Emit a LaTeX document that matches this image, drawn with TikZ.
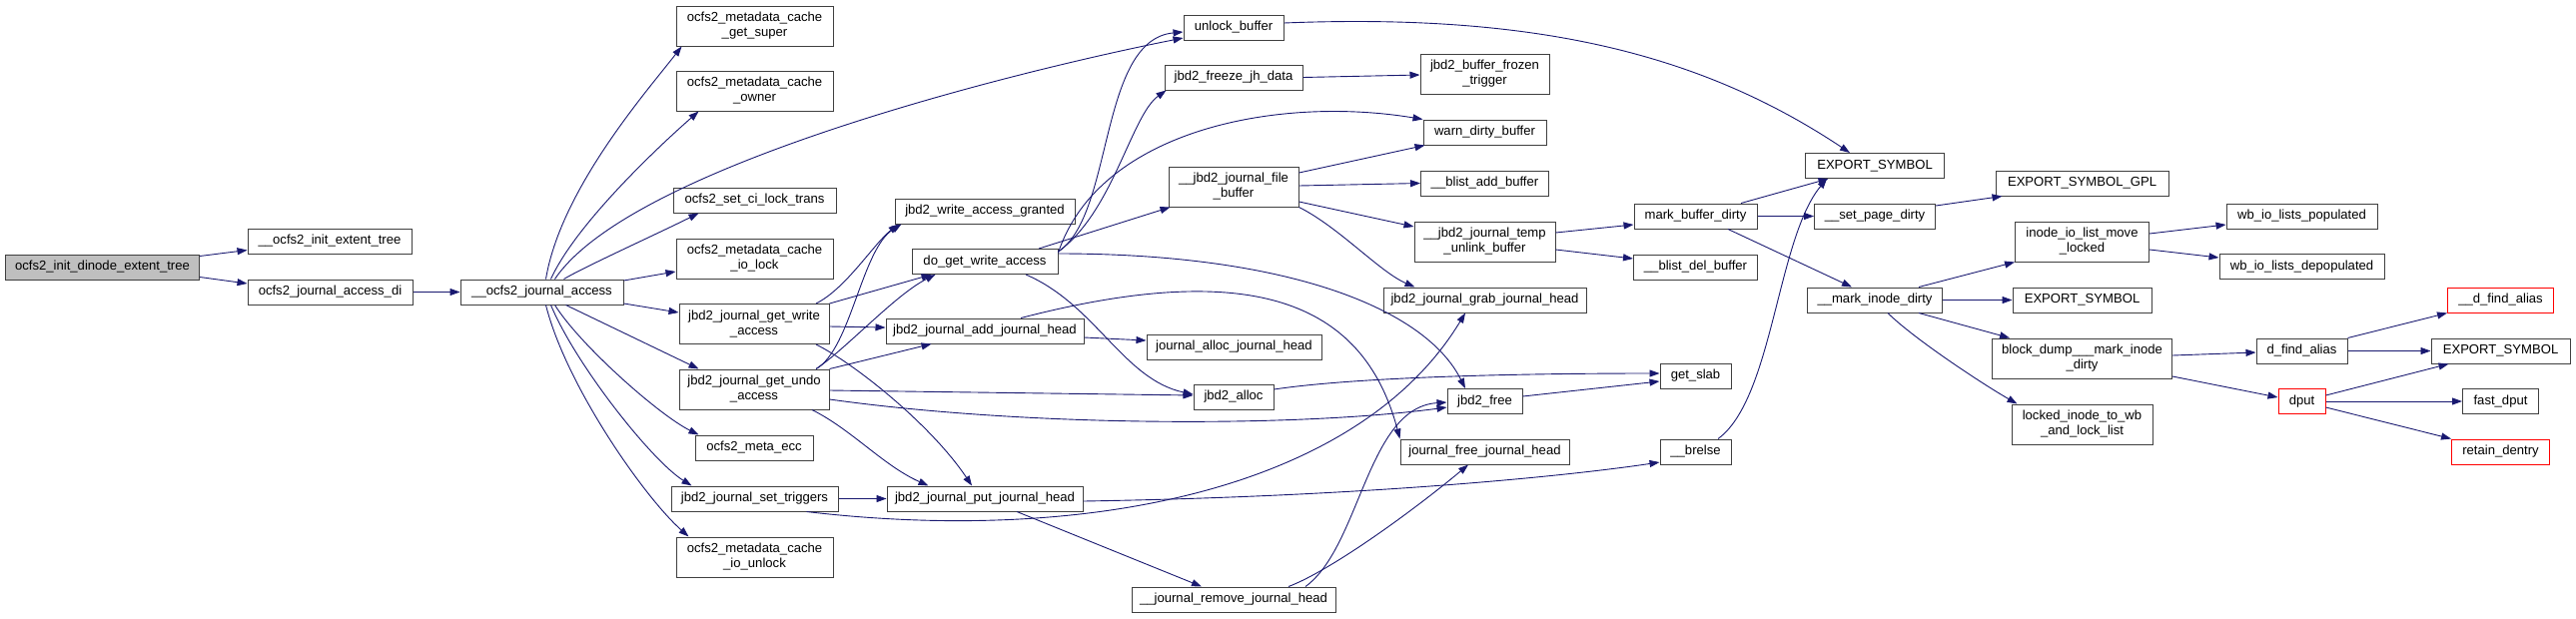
\documentclass[tikz,border=0pt]{standalone}
\usepackage{fontspec}
\setmainfont{Liberation Sans}
\usepackage{tikz}
\usetikzlibrary{arrows.meta}
\usepackage{xcolor}
\definecolor{edgecolor}{RGB}{25,25,112}
\definecolor{rootcolor}{RGB}{191,191,191}
\definecolor{boxborder}{RGB}{64,64,64}

\begin{document}
\begin{tikzpicture}[x=1pt, y=-1pt]
  \tikzset{
    func/.style={
      draw=boxborder,
      line width=1pt,
      fill=white,
      minimum height=25pt,
      inner sep=0pt,
      anchor=center,
      align=center,
      font=\fontsize{13.1}{15}\selectfont
    },
    func2/.style={
      func,
      minimum height=40pt
    },
    current/.style={
      func,
      fill=rootcolor
    },
    trunc/.style={
      func,
      draw=red
    },
    call/.style={
      draw=edgecolor,
      line width=0.9pt,
      -{Triangle[length=10pt,width=7pt]}
    }
  }
  \useasboundingbox (0,0) rectangle (2579,619);

  % Caller and first calls
    \node[current, minimum width=194pt] at (102.5, 267.5) (root) {ocfs2\_init\_dinode\_extent\_tree};
    \node[func, minimum width=164pt] at (330, 241.5) (initext) {\_\_ocfs2\_init\_extent\_tree};
    \node[func, minimum width=165pt] at (330.5, 292.5) (accdi) {ocfs2\_journal\_access\_di};
    \node[func, minimum width=163pt] at (542.5, 292.5) (jacc) {\_\_ocfs2\_journal\_access};

  % Callees of __ocfs2_journal_access
    \node[func2, minimum width=157pt] at (755.5, 26) (getsuper) {ocfs2\_metadata\_cache\\\_get\_super};
    \node[func2, minimum width=157pt] at (755.5, 91) (owner) {ocfs2\_metadata\_cache\\\_owner};
    \node[func, minimum width=163pt] at (755.5, 200.5) (locktrans) {ocfs2\_set\_ci\_lock\_trans};
    \node[func2, minimum width=157pt] at (755.5, 259) (iolock) {ocfs2\_metadata\_cache\\\_io\_lock};
    \node[func2, minimum width=150pt] at (755, 324.5) (getwrite) {jbd2\_journal\_get\_write\\\_access};
    \node[func2, minimum width=150pt] at (755, 390) (getundo) {jbd2\_journal\_get\_undo\\\_access};
    \node[func, minimum width=118pt] at (755, 448.5) (metaecc) {ocfs2\_meta\_ecc};
    \node[func, minimum width=167pt] at (755.5, 499.5) (settrig) {jbd2\_journal\_set\_triggers};
    \node[func2, minimum width=157pt] at (755.5, 558) (iounlock) {ocfs2\_metadata\_cache\\\_io\_unlock};

  % jbd2 access helpers
    \node[func, minimum width=180pt] at (986, 211.5) (granted) {jbd2\_write\_access\_granted};
    \node[func, minimum width=146pt] at (986, 262) (dogwa) {do\_get\_write\_access};
    \node[func, minimum width=198pt] at (986, 331.5) (addjh) {jbd2\_journal\_add\_journal\_head};
    \node[func, minimum width=196pt] at (986, 499.5) (putjh) {jbd2\_journal\_put\_journal\_head};

  % Next column
    \node[func, minimum width=100pt] at (1235, 27.5) (unlock) {unlock\_buffer};
    \node[func, minimum width=138pt] at (1235, 77.5) (freeze) {jbd2\_freeze\_jh\_data};
    \node[func2, minimum width=130pt] at (1235, 187) (filebuf) {\_\_jbd2\_journal\_file\\\_buffer};
    \node[func, minimum width=175pt] at (1235.5, 347.5) (allocjh) {journal\_alloc\_journal\_head};
    \node[func, minimum width=80pt] at (1235, 397.5) (alloc) {jbd2\_alloc};
    \node[func, minimum width=204pt] at (1235, 600.5) (removejh) {\_\_journal\_remove\_journal\_head};

    \node[func2, minimum width=129pt] at (1486.5, 74) (frozen) {jbd2\_buffer\_frozen\\\_trigger};
    \node[func, minimum width=123pt] at (1486.5, 132.5) (warn) {warn\_dirty\_buffer};
    \node[func, minimum width=128pt] at (1486.5, 183.5) (blistadd) {\_\_blist\_add\_buffer};
    \node[func2, minimum width=141pt] at (1486.5, 242) (tempunlink) {\_\_jbd2\_journal\_temp\\\_unlink\_buffer};
    \node[func, minimum width=203pt] at (1486.5, 300.5) (grab) {jbd2\_journal\_grab\_journal\_head};
    \node[func, minimum width=75pt] at (1486.5, 402) (jfree) {jbd2\_free};
    \node[func, minimum width=169pt] at (1486.5, 452.5) (freejh) {journal\_free\_journal\_head};

  % Buffer and slab helpers
    \node[func, minimum width=123pt] at (1697.5, 216.5) (markbuf) {mark\_buffer\_dirty};
    \node[func, minimum width=124pt] at (1697.5, 267.5) (blistdel) {\_\_blist\_del\_buffer};
    \node[func, minimum width=71pt] at (1697.5, 376.5) (getslab) {get\_slab};
    \node[func, minimum width=71pt] at (1697.5, 452.5) (brelse) {\_\_brelse};

    \node[func, minimum width=139pt] at (1877, 166) (es1) {EXPORT\_SYMBOL};
    \node[func, minimum width=121pt] at (1877, 216.5) (setpage) {\_\_set\_page\_dirty};
    \node[func, minimum width=135pt] at (1877, 300.5) (markinode) {\_\_mark\_inode\_dirty};

  % Inode dirtying
    \node[func, minimum width=173pt] at (2084.5, 183.5) (esgpl) {EXPORT\_SYMBOL\_GPL};
    \node[func2, minimum width=134pt] at (2084.5, 242) (inodeio) {inode\_io\_list\_move\\\_locked};
    \node[func, minimum width=139pt] at (2084.5, 300.5) (es2) {EXPORT\_SYMBOL};
    \node[func2, minimum width=180pt] at (2084.5, 359) (blockdump) {block\_dump\_\_\_mark\_inode\\\_dirty};
    \node[func2, minimum width=141pt] at (2084.5, 425) (locked) {locked\_inode\_to\_wb\\\_and\_lock\_list};

    \node[func, minimum width=151pt] at (2304.5, 216.5) (wbpop) {wb\_io\_lists\_populated};
    \node[func, minimum width=165pt] at (2304.5, 267) (wbdepop) {wb\_io\_lists\_depopulated};
    \node[func, minimum width=91pt] at (2304.5, 351.5) (dfind) {d\_find\_alias};
    \node[trunc, minimum width=47pt] at (2304.5, 402) (dput) {dput};

    \node[trunc, minimum width=106pt] at (2503.5, 300.5) (udfind) {\_\_d\_find\_alias};
    \node[func, minimum width=139pt] at (2503.5, 351.5) (es3) {EXPORT\_SYMBOL};
    \node[func, minimum width=76pt] at (2503.5, 402) (fastdput) {fast\_dput};
    \node[trunc, minimum width=98pt] at (2503.5, 452.5) (retain) {retain\_dentry};

  % Calls from the caller
    \draw[call] ([yshift=11pt]root.east) -- ([yshift=-9pt]initext.west);
    \draw[call] ([yshift=-10pt]root.east) -- ([yshift=8.5pt]accdi.west);
    \draw[call] (accdi.east) -- (jacc.west);

  % Calls from __ocfs2_journal_access
    \draw[call] ([xshift=4pt]jacc.north) .. controls +(15,-90) and +(-35,45) .. ([xshift=6pt]getsuper.south west);
    \draw[call] ([xshift=9pt]jacc.north) .. controls +(25,-55) and +(-40,35) .. ([xshift=23pt]owner.south west);
    \draw[call] ([xshift=13pt]jacc.north) .. controls +(74,-110) and +(-185,37) .. ([yshift=-10.5pt]unlock.west);
    \draw[call] ([xshift=22pt]jacc.north) .. controls +(20,-12) and +(-40,20) .. ([xshift=26pt]locktrans.south west);
    \draw[call] ([yshift=11.5pt]jacc.east) -- ([yshift=-13pt]iolock.west);
    \draw[call] ([yshift=-11.5pt]jacc.east) -- ([yshift=11.5pt]getwrite.west);
    \draw[call] ([xshift=24pt]jacc.south) -- ([xshift=20pt]getundo.north west);
    \draw[call] ([xshift=13pt]jacc.south) .. controls +(25,40) and +(-40,-20) .. ([xshift=4pt]metaecc.north west);
    \draw[call] ([xshift=9pt]jacc.south) .. controls +(25,60) and +(-40,-25) .. ([xshift=21pt]settrig.north west);
    \draw[call] ([xshift=4pt]jacc.south) .. controls +(20,80) and +(-45,-40) .. ([xshift=13pt]iounlock.north west);

  % get_write_access and get_undo_access
    \draw[call] ([xshift=62pt]getwrite.north) .. controls +(30,-15) and +(-25,20) .. ([xshift=4pt]granted.south west);
    \draw[call] (getwrite.north east) -- ([xshift=20pt]dogwa.south west);
    \draw[call] ([yshift=-2.5pt]getwrite.east) -- ([yshift=3.5pt]addjh.west);
    \draw[call] ([xshift=62pt]getwrite.south) .. controls +(40,20) and +(-40,-60) .. ([xshift=-13pt]putjh.north);

    \draw[call] ([xshift=62pt]getundo.north) .. controls +(35,-20) and +(-40,25) .. ([xshift=7pt]granted.south west);
    \draw[call] ([xshift=62pt]getundo.north) .. controls +(30,-20) and +(-40,20) .. ([xshift=24pt]dogwa.south west);
    \draw[call] (getundo.north east) -- ([xshift=46pt]addjh.south west);
    \draw[call] ([yshift=-1pt]getundo.east) -- ([yshift=1.5pt]alloc.west);
    \draw[call] ([yshift=-10pt]getundo.east) .. controls +(200,28) and +(-150,20) .. ([yshift=-6pt]jfree.west);
    \draw[call] ([xshift=58pt]getundo.south) .. controls +(40,20) and +(-45,-20) .. ([xshift=42pt]putjh.north west);

    \draw[call] (settrig.east) -- (putjh.west);
    \draw[call] ([xshift=52pt]settrig.south) .. controls +(280,33) and +(-107,177) .. ([xshift=-19.5pt]grab.south);

  % do_get_write_access
    \draw[call] ([yshift=10pt]dogwa.east) .. controls +(56,-37) and +(-85,8) .. ([yshift=-4.5pt]unlock.west);
    \draw[call] ([yshift=10pt]dogwa.east) .. controls +(55,-40) and +(-35,25) .. ([xshift=2pt]freeze.south west);
    \draw[call] ([yshift=9pt]dogwa.east) .. controls +(41,-123) and +(-145,-24) .. (warn.north west);
    \draw[call] ([xshift=54pt]dogwa.north) -- ([xshift=2pt]filebuf.south west);
    \draw[call] ([yshift=8pt]dogwa.east) .. controls +(230,0) and +(-40,-80) .. ([xshift=-19.5pt]jfree.north);
    \draw[call] ([xshift=41pt]dogwa.south) .. controls +(70,30) and +(-70,-15) .. ([yshift=2.5pt]alloc.west);

  % journal heads
    \draw[call] ([yshift=-6.5pt]addjh.east) -- ([yshift=6.5pt]allocjh.west);
    \draw[call] ([xshift=36pt]addjh.north) .. controls +(228,-59) and +(-37,-140) .. (freejh.north west);
    \draw[call] ([xshift=32pt]putjh.south) -- ([xshift=-32pt]removejh.north);
    \draw[call] ([yshift=-2.5pt]putjh.east) .. controls +(300,-5) and +(-80,12) .. ([yshift=-10.5pt]brelse.west);
    \draw[call] ([xshift=55pt]removejh.north) .. controls +(40,-15) and +(-60,50) .. ([xshift=-16.5pt]freejh.south);
    \draw[call] ([xshift=72pt]removejh.north) .. controls +(55,-40) and +(-80,5) .. ([yshift=-1pt]jfree.west);

  % file buffer
    \draw[call] ([yshift=14pt]filebuf.east) -- ([xshift=2pt]warn.south west);
    \draw[call] ([yshift=1pt]filebuf.east) -- (blistadd.west);
    \draw[call] ([yshift=-15pt]filebuf.east) -- ([yshift=15pt]tempunlink.west);
    \draw[call] (filebuf.south east) .. controls +(40,20) and +(-35,-15) .. ([xshift=32pt]grab.north west);
    \draw[call] (freeze.east) -- ([yshift=-1pt]frozen.west);

  % slab and buffers
    \draw[call] ([yshift=7.5pt]alloc.east) .. controls +(80,-12) and +(-150,0) .. ([yshift=2.5pt]getslab.west);
    \draw[call] ([yshift=5pt]jfree.east) -- ([yshift=-5.5pt]getslab.west);
    \draw[call] ([yshift=4.5pt]unlock.east) .. controls +(250,-10) and +(-150,-100) .. ([xshift=-25pt]es1.north);
    \draw[call] ([yshift=9pt]tempunlink.east) -- ([yshift=-8.5pt]markbuf.west);
    \draw[call] ([yshift=-8pt]tempunlink.east) -- ([yshift=8.5pt]blistdel.west);
    \draw[call] ([xshift=45.5pt]markbuf.north) -- ([xshift=23.5pt]es1.south west);
    \draw[call] (markbuf.east) -- (setpage.west);
    \draw[call] ([xshift=32.5pt]markbuf.south) -- ([xshift=-23pt]markinode.north);
    \draw[call] ([xshift=22.5pt]brelse.north) .. controls +(55,-40) and +(-50,60) .. ([xshift=22pt]es1.south west);
    \draw[call] ([yshift=10.5pt]setpage.east) -- ([xshift=7pt]esgpl.south west);

  % inode dirtying
    \draw[call] ([xshift=44pt]markinode.north) -- (inodeio.south west);
    \draw[call] (markinode.east) -- (es2.west);
    \draw[call] ([xshift=44pt]markinode.south) -- ([xshift=18pt]blockdump.north west);
    \draw[call] ([xshift=13pt]markinode.south) .. controls +(25,25) and +(-35,-20) .. ([xshift=6pt]locked.north west);
    \draw[call] ([yshift=8pt]inodeio.east) -- ([yshift=-8.5pt]wbpop.west);
    \draw[call] ([yshift=-8pt]inodeio.east) -- ([yshift=9pt]wbdepop.west);
    \draw[call] ([yshift=3pt]blockdump.east) -- ([yshift=-1.5pt]dfind.west);
    \draw[call] ([yshift=-18pt]blockdump.east) -- ([yshift=4pt]dput.west);

  % dentry helpers
    \draw[call] (dfind.north east) -- (udfind.south west);
    \draw[call] (dfind.east) -- (es3.west);
    \draw[call] ([yshift=6pt]dput.east) -- ([xshift=18pt]es3.south west);
    \draw[call] (dput.east) -- (fastdput.west);
    \draw[call] ([yshift=-6pt]dput.east) -- (retain.north west);

\end{tikzpicture}
\end{document}
